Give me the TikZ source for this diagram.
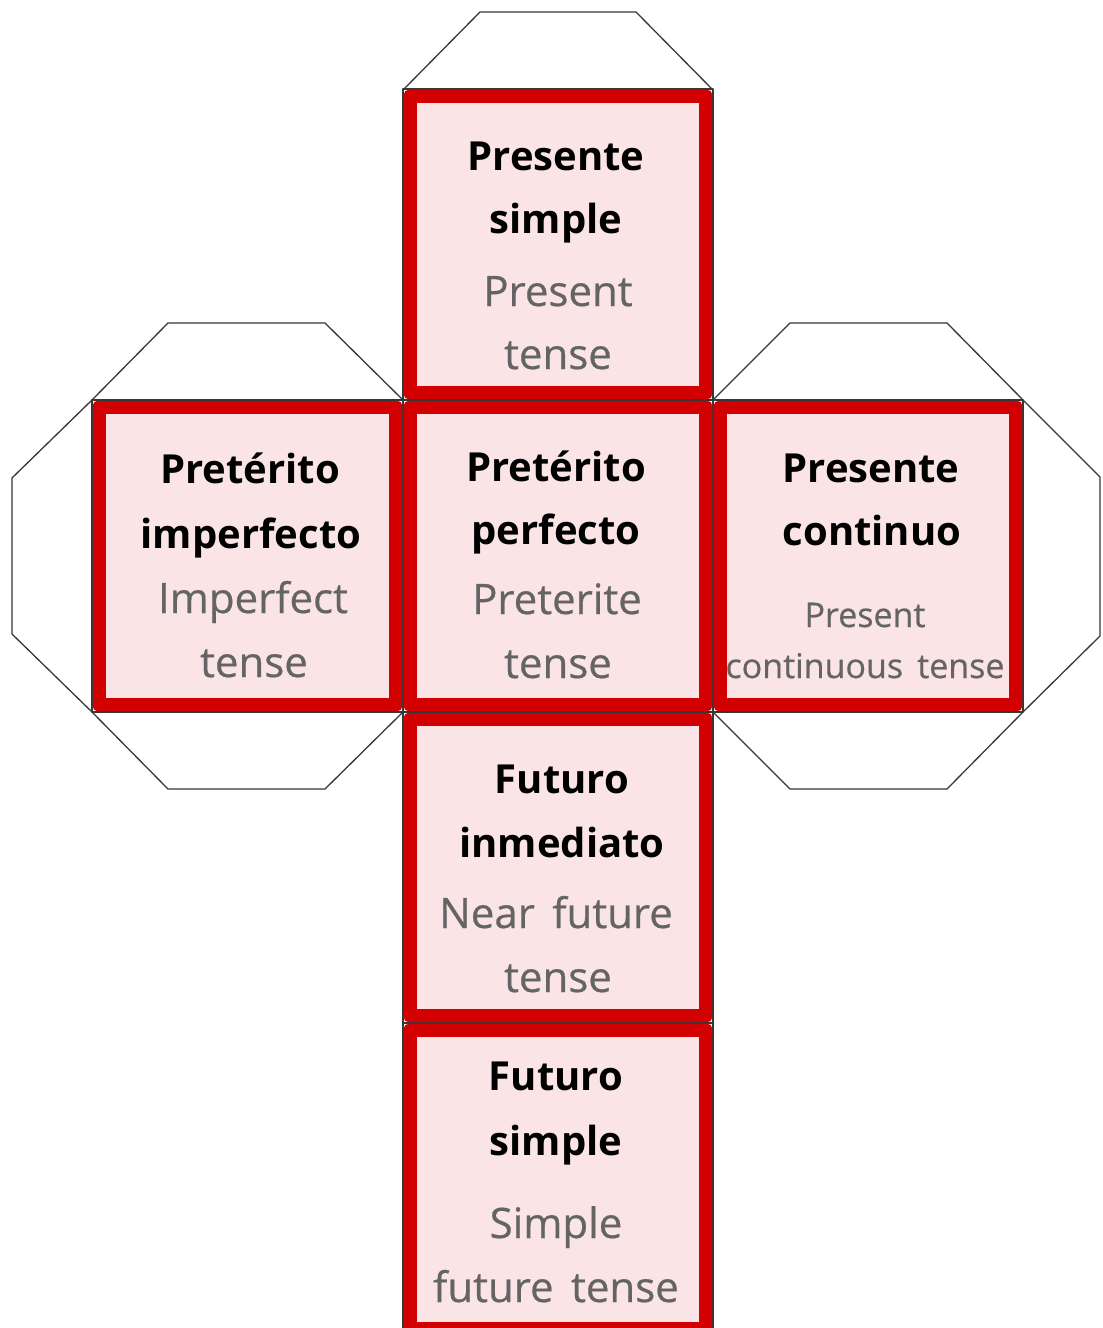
\documentclass[tikz,border=0pt]{standalone}
\usepackage{fontspec}
\setmainfont{Open Sans}
\newfontfamily\grayfont{Open Sans}[FakeBold=0.5,WordSpace=1.6]
\definecolor{framered}{RGB}{210,0,0}
\definecolor{facepink}{RGB}{250,228,230}
\definecolor{textgray}{RGB}{100,100,100}
\definecolor{netgray}{RGB}{55,55,55}
\tikzset{
  netline/.style={draw=netgray, line width=1.3pt, line join=round},
  blk/.style={anchor=base, inner sep=0pt, text=black, font=\bfseries\fontsize{40}{40}\selectfont},
  gry/.style={anchor=base, inner sep=0pt, text=textgray, font=\grayfont\fontsize{42}{42}\selectfont},
  grysmall/.style={anchor=base, inner sep=0pt, text=textgray, font=\grayfont\fontsize{34}{34}\selectfont}
}
\newcommand{\faceoutline}[4]{%
  \draw[netline] (#1,#2) rectangle (#3,#4);
}
\newcommand{\cubeface}[4]{%
  \fill[framered, rounded corners=4pt] (#1+1,#2+1) rectangle (#3-1,#4-1);
  \fill[facepink] (#1+14,#2+14) rectangle (#3-14,#4-14);
}
\begin{document}
\begin{tikzpicture}[x=1pt,y=-1pt]
\useasboundingbox (0,0) rectangle (1103,1328);
\clip (0,0) rectangle (1103,1328);
\fill[white] (0,0) rectangle (1103,1328);
% flaps
\draw[netline] (403,90) -- (480,12) -- (636,12) -- (713,90);
\draw[netline] (92,400) -- (168,323) -- (325,323) -- (403,400);
\draw[netline] (92,400) -- (12,478) -- (12,634) -- (92,712);
\draw[netline] (92,712) -- (168,789) -- (325,789) -- (403,712);
\draw[netline] (713,400) -- (790,323) -- (947,323) -- (1023,400);
\draw[netline] (1023,400) -- (1100,477) -- (1100,636) -- (1023,712);
\draw[netline] (713,712) -- (790,789) -- (947,789) -- (1023,712);
% face outlines
\faceoutline{403}{89}{713}{400}
\faceoutline{92}{400}{403}{712}
\faceoutline{403}{400}{713}{712}
\faceoutline{713}{400}{1023}{712}
\faceoutline{403}{712}{713}{1023}
\faceoutline{403}{1023}{713}{1336}
% faces
\cubeface{403}{89}{713}{400}
\cubeface{92}{400}{403}{712}
\cubeface{403}{400}{713}{712}
\cubeface{713}{400}{1023}{712}
\cubeface{403}{712}{713}{1023}
\cubeface{403}{1023}{713}{1336}
% top face
\node[blk] (topa) at (556,170) {Presente};
\node[blk] (topb) at (556,233) {simple};
\node[gry] (topc) at (558,306) {Present};
\node[gry] (topd) at (558,369) {tense};
% left face
\node[blk] (lefta) at (250,483) {Pretérito};
\node[blk] (leftb) at (251,548) {imperfecto};
\node[gry] (leftc) at (253,613) {Imperfect};
\node[gry] (leftd) at (254,677) {tense};
% center face
\node[blk] (cena) at (556,481) {Pretérito};
\node[blk] (cenb) at (556,544) {perfecto};
\node[gry] (cenc) at (557,614) {Preterite};
\node[gry] (cend) at (558,678) {tense};
% right face
\node[blk] (righta) at (871,482) {Presente};
\node[blk] (rightb) at (872,545) {continuo};
\node[grysmall] (rightc) at (865,627) {Present};
\node[grysmall] (rightd) at (865,678) {continuous tense};
% face 5
\node[blk] (fivea) at (562,793) {Futuro};
\node[blk] (fiveb) at (562,857) {inmediato};
\node[gry] (fivec) at (556,928) {Near future};
\node[gry] (fived) at (558,992) {tense};
% face 6
\node[blk] (sixa) at (556,1090) {Futuro};
\node[blk] (sixb) at (556,1155) {simple};
\node[gry] (sixc) at (556,1238) {Simple};
\node[gry] (sixd) at (556,1302) {future tense};
\end{tikzpicture}
\end{document}
